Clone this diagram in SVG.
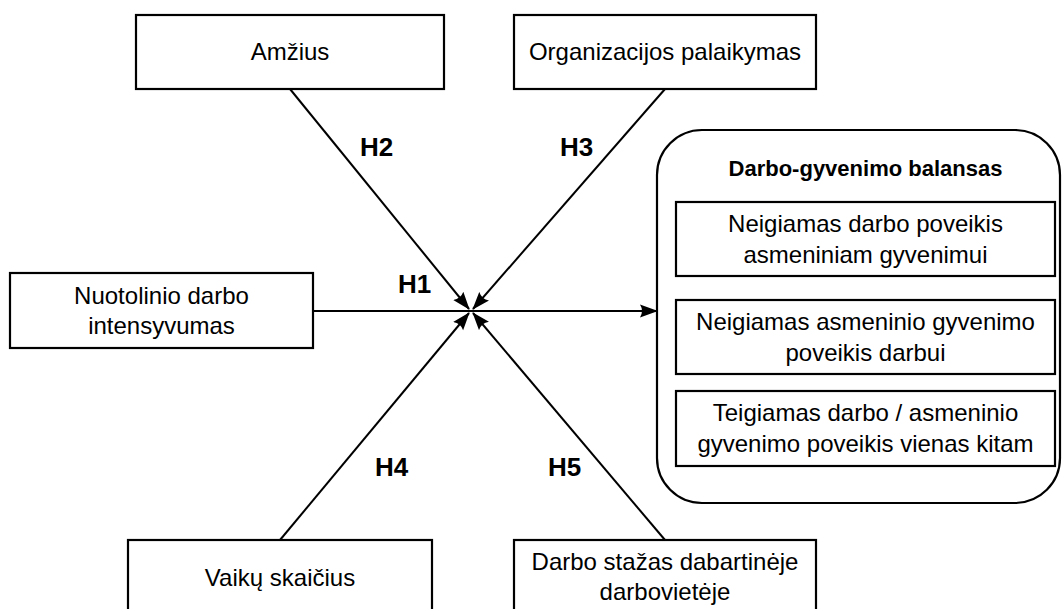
<svg xmlns="http://www.w3.org/2000/svg" width="1062" height="609" viewBox="0 0 1062 609">
<style>
.box{fill:#fff;stroke:#000;stroke-width:2.2}
.t{font-family:"Liberation Sans",Arial,sans-serif;font-size:24px;fill:#000;text-anchor:middle}
.h{font-family:"Liberation Sans",Arial,sans-serif;font-size:26px;font-weight:bold;fill:#000}
.ttl{font-family:"Liberation Sans",Arial,sans-serif;font-size:22px;font-weight:bold;fill:#000;text-anchor:middle}
.c{stroke:#000;stroke-width:2;fill:none}
</style>
<defs>
<marker id="arr" markerUnits="userSpaceOnUse" markerWidth="18" markerHeight="14" refX="17" refY="7" orient="auto">
<path d="M0,0.5 L18,7 L0,13.5 Q4,7 0,0.5 z" fill="#000"/>
</marker>
</defs>
<rect width="1062" height="609" fill="#fff"/>
<g id="connectors">
<line class="c" x1="313" y1="311" x2="657" y2="311" marker-end="url(#arr)"/>
<line class="c" x1="290" y1="89" x2="469" y2="309" marker-end="url(#arr)"/>
<line class="c" x1="665" y1="89" x2="473" y2="309" marker-end="url(#arr)"/>
<line class="c" x1="280" y1="540" x2="469" y2="313" marker-end="url(#arr)"/>
<line class="c" x1="665" y1="540" x2="473" y2="313" marker-end="url(#arr)"/>
<text class="h" x="360" y="156">H2</text>
<text class="h" x="560" y="156">H3</text>
<text class="h" x="398" y="293">H1</text>
<text class="h" x="375" y="476">H4</text>
<text class="h" x="548" y="476">H5</text>
</g>
<g id="amzius">
<rect class="box" x="136" y="15" width="308" height="74"/>
<text class="t" x="290" y="60">Amžius</text>
</g>
<g id="organizacijos">
<rect class="box" x="514" y="15" width="302" height="74"/>
<text class="t" x="665" y="60">Organizacijos palaikymas</text>
</g>
<g id="nuotolinio">
<rect class="box" x="10" y="273" width="303" height="75"/>
<text class="t" x="161.5" y="304">Nuotolinio darbo</text>
<text class="t" x="161.5" y="334">intensyvumas</text>
</g>
<g id="vaiku">
<rect class="box" x="128" y="540" width="304" height="80"/>
<text class="t" x="280" y="586">Vaikų skaičius</text>
</g>
<g id="stazas">
<rect class="box" x="514" y="540" width="302" height="80"/>
<text class="t" x="665" y="570">Darbo stažas dabartinėje</text>
<text class="t" x="665" y="600">darbovietėje</text>
</g>
<g id="balansas">
<rect class="box" x="657" y="130" width="403" height="373" rx="45" ry="45"/>
<text class="ttl" x="865.5" y="176">Darbo-gyvenimo balansas</text>
<rect class="box" x="676" y="202" width="379" height="74"/>
<text class="t" x="865.5" y="232">Neigiamas darbo poveikis</text>
<text class="t" x="865.5" y="263">asmeniniam gyvenimui</text>
<rect class="box" x="676" y="300" width="379" height="74"/>
<text class="t" x="865.5" y="330">Neigiamas asmeninio gyvenimo</text>
<text class="t" x="865.5" y="361">poveikis darbui</text>
<rect class="box" x="676" y="391" width="379" height="75"/>
<text class="t" x="865.5" y="421">Teigiamas darbo / asmeninio</text>
<text class="t" x="865.5" y="452">gyvenimo poveikis vienas kitam</text>
</g>
</svg>
